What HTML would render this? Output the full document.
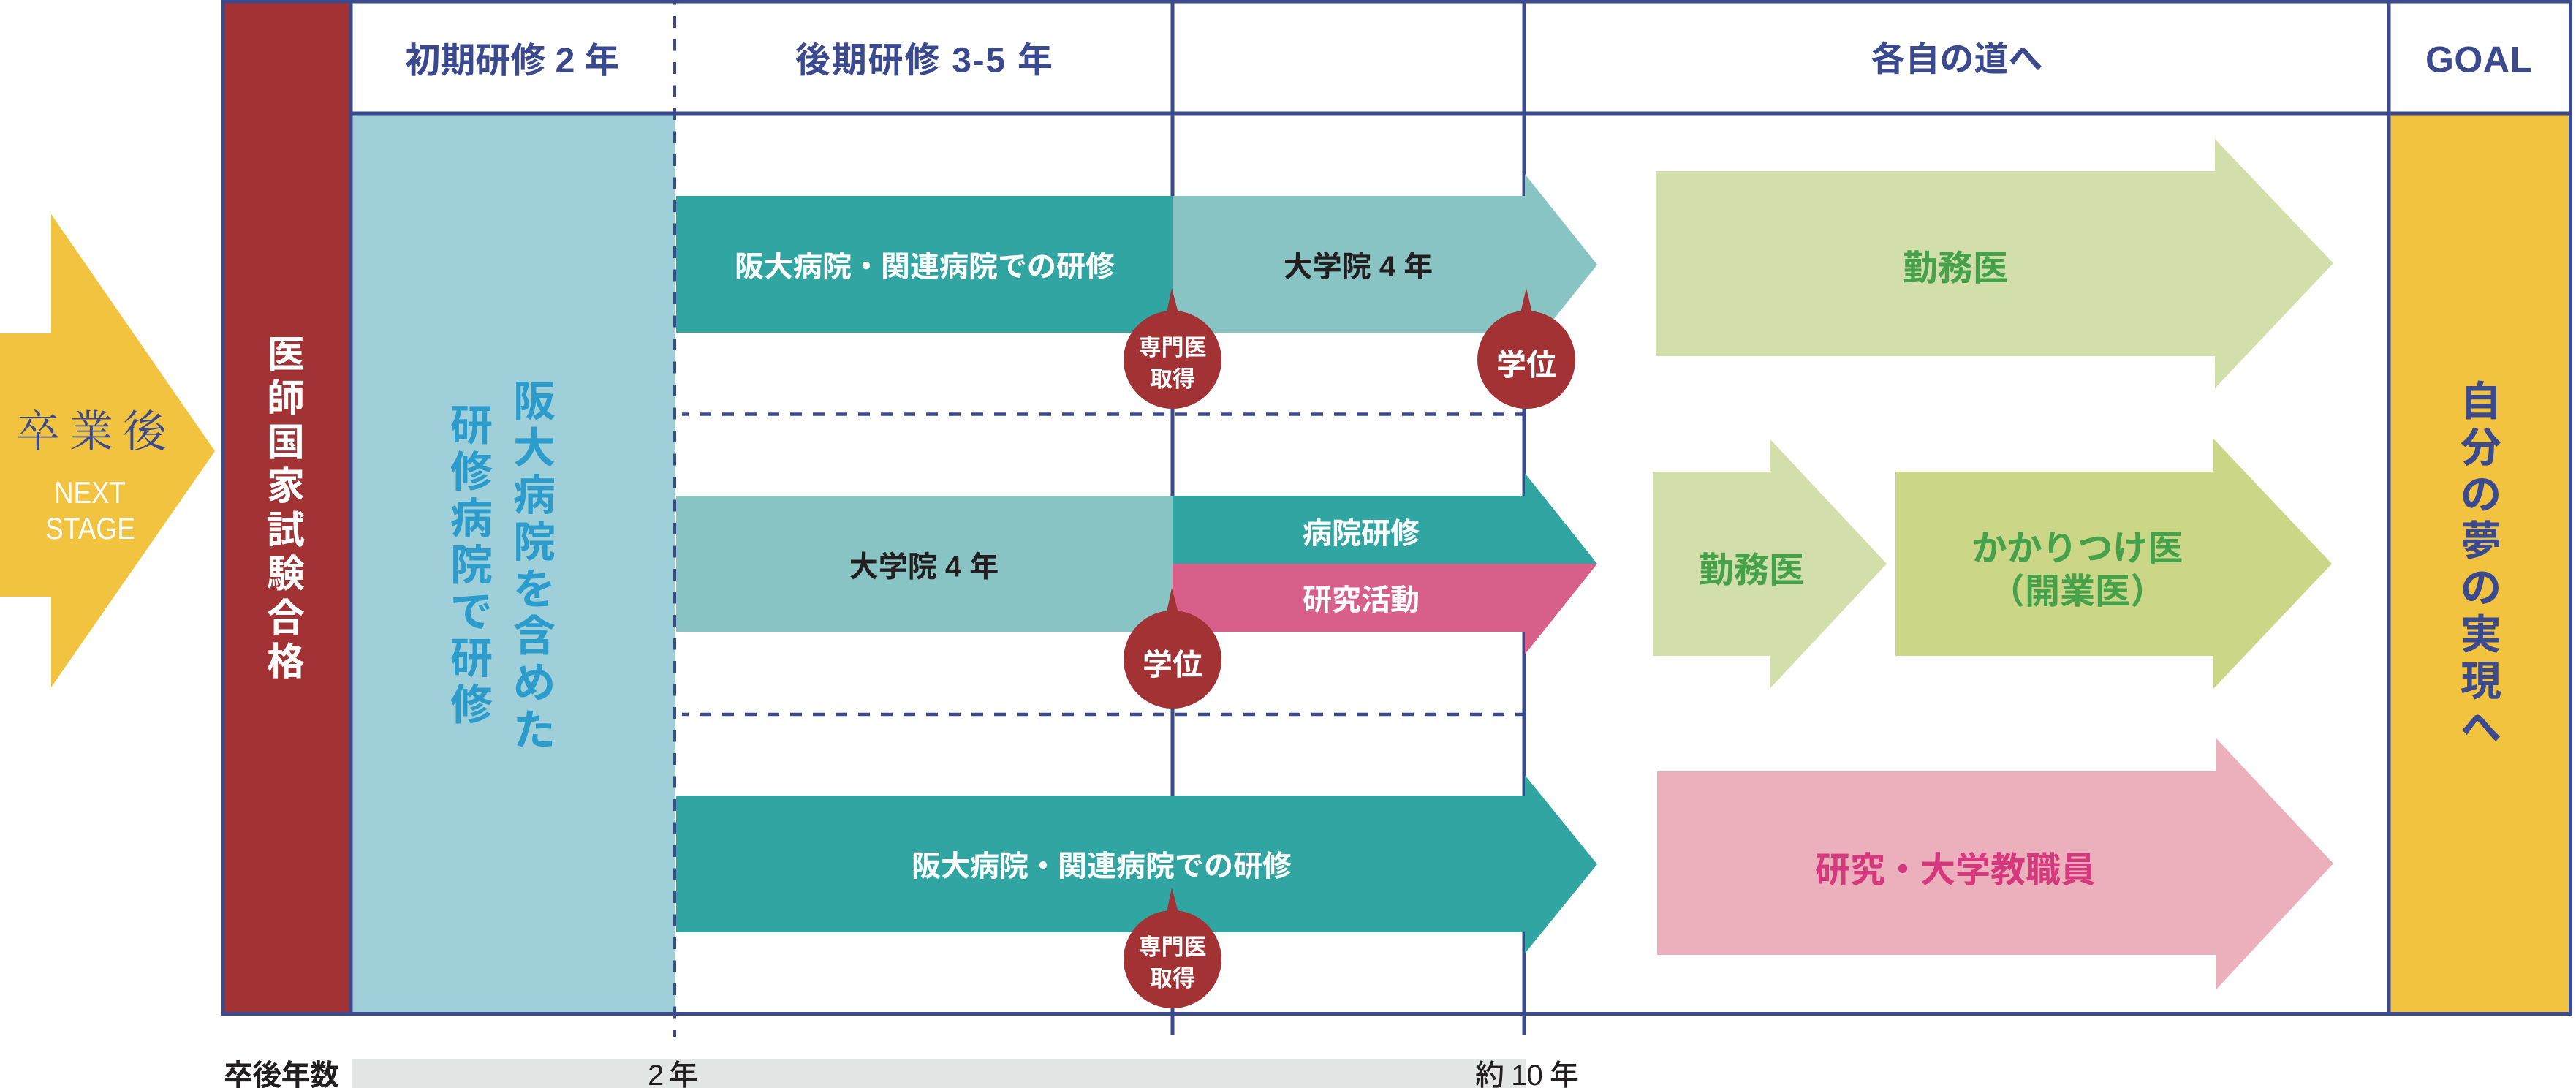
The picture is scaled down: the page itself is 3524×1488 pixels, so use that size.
<!DOCTYPE html>
<html><head><meta charset="utf-8"><style>
html,body{margin:0;padding:0;background:#fff;}
svg{display:block;}
</style></head><body>
<svg xmlns="http://www.w3.org/2000/svg" width="3524" height="1488" viewBox="0 0 3524 1488">
<rect x="0" y="0" width="3524" height="1488" fill="#fff"/>
<!-- yellow start arrow -->
<polygon points="0,456 70,456 70,293 294,617 70,940 70,816 0,816" fill="#f1c33f"/>
<!-- red column -->
<rect x="305" y="2" width="176" height="1384" fill="#a23234"/>
<!-- light blue column -->
<rect x="481" y="156" width="442" height="1230" fill="#9fd0da"/>
<!-- goal column -->
<rect x="3268" y="156" width="248" height="1230" fill="#f1c33f"/>
<!-- right arrows -->
<polygon points="2265,234 3030,234 3030,190 3192,360 3030,531 3030,487 2265,487" fill="#d3dfab"/>
<polygon points="2261,645 2421,645 2421,600 2581,771 2421,942 2421,897 2261,897" fill="#d3dfab"/>
<polygon points="2593,645 3028,645 3028,600 3190,771 3028,942 3028,897 2593,897" fill="#cbd687"/>
<polygon points="2267,1055 3032,1055 3032,1010 3192,1181 3032,1353 3032,1306 2267,1306" fill="#ebb0bb"/>
<!-- grid lines -->
<g stroke="#3b4a8e" stroke-width="5" fill="none">
<line x1="1604" y1="0" x2="1604" y2="1416"/>
<line x1="2085" y1="0" x2="2085" y2="1416"/>
<line x1="480" y1="0" x2="480" y2="1386"/>
<line x1="3268" y1="0" x2="3268" y2="1386"/>
<line x1="480" y1="155" x2="3516" y2="155"/>
<rect x="305.5" y="2" width="3211" height="1384.5"/>
</g>
<!-- row 1 -->
<rect x="925" y="268" width="679" height="187" fill="#31a5a2"/>
<polygon points="1604,268 2086,268 2086,238 2185,362 2086,486 2086,455 1604,455" fill="#88c4c4"/>
<!-- row 2 -->
<rect x="925" y="678" width="679" height="186" fill="#88c4c4"/>
<polygon points="1604,678 2086,678 2086,647 2185,771 1604,771" fill="#31a5a2"/>
<polygon points="1604,771 2185,771 2086,895 2086,864 1604,864" fill="#d95f8b"/>
<!-- row 3 -->
<polygon points="925,1088 2086,1088 2086,1060 2185,1182 2086,1304 2086,1275 925,1275" fill="#31a5a2"/>
<!-- dashed lines -->
<g stroke="#3b4a8e" fill="none">
<line x1="923" y1="0" x2="923" y2="1418" stroke-width="4" stroke-dasharray="16 15.5" stroke-dashoffset="9.5"/>
<line x1="933" y1="566.5" x2="2084" y2="566.5" stroke-width="4.5" stroke-dasharray="16 15" stroke-dashoffset="7"/>
<line x1="933" y1="977" x2="2084" y2="977" stroke-width="4.5" stroke-dasharray="16 15" stroke-dashoffset="7"/>
</g>
<!-- bottom gray bar -->
<rect x="481" y="1448" width="1606" height="40" fill="#e4e6e5"/>
<!-- badges -->
<g fill="#a23234">
<circle cx="1604" cy="492" r="67"/><polygon points="1595,432 1603,394 1613,432"/>
<circle cx="2088" cy="492" r="67"/><polygon points="2079,432 2088,394 2097,432"/>
<circle cx="1604" cy="902" r="67"/><polygon points="1595,842 1603,804 1613,842"/>
<circle cx="1604" cy="1312" r="67"/><polygon points="1595,1252 1603,1214 1613,1252"/>
</g>

<!-- TEXT -->
<g font-family="'Liberation Sans','Noto Sans CJK JP',sans-serif" font-weight="700">
<!-- left arrow -->
<text x="22" y="611" font-family="'Liberation Serif','Noto Serif CJK SC',serif" font-weight="400" font-size="60" fill="#3b4a8e" textLength="206">卒業後</text>
<text x="74" y="688" font-weight="400" font-size="42" fill="#fff" textLength="98" lengthAdjust="spacingAndGlyphs">NEXT</text>
<text x="62" y="737" font-weight="400" font-size="42" fill="#fff" textLength="123" lengthAdjust="spacingAndGlyphs">STAGE</text>

<!-- header -->
<g fill="#3b4a8e">
<text x="701" y="99" font-size="48" text-anchor="middle">初期研修 2 年</text>
<text x="1088" y="98.5" font-size="48" textLength="352">後期研修 3-5 年</text>
<text x="2677" y="97" font-size="47" text-anchor="middle">各自の道へ</text>
<text x="3318" y="98.7" font-size="50" textLength="146" font-family="'Liberation Sans',sans-serif">GOAL</text>
</g>

<!-- red column vertical -->
<g fill="#fff" font-size="52" text-anchor="middle">
<text x="391" y="502.8">医</text>
<text x="391" y="562.8">師</text>
<text x="391" y="622.8">国</text>
<text x="391" y="682.8">家</text>
<text x="391" y="742.8">試</text>
<text x="391" y="802.8">験</text>
<text x="391" y="862.8">合</text>
<text x="391" y="922.8">格</text>
</g>

<!-- light blue column vertical -->
<g fill="#2b9ccc" font-size="58" text-anchor="middle">
<text x="731" y="569">阪</text>
<text x="731" y="633.2">大</text>
<text x="731" y="697.4">病</text>
<text x="731" y="761.6">院</text>
<text x="731" y="825.8">を</text>
<text x="731" y="890">含</text>
<text x="731" y="954.2">め</text>
<text x="731" y="1018.4">た</text>
<text x="645" y="602">研</text>
<text x="645" y="665.7">修</text>
<text x="645" y="729.4">病</text>
<text x="645" y="793.1">院</text>
<text x="645" y="856.8">で</text>
<text x="645" y="920.5">研</text>
<text x="645" y="984.2">修</text>
</g>

<!-- goal vertical -->
<g fill="#3b4a8e" font-size="56" text-anchor="middle">
<text x="3394" y="568.3">自</text>
<text x="3394" y="632.1">分</text>
<text x="3394" y="695.9">の</text>
<text x="3394" y="759.7">夢</text>
<text x="3394" y="823.5">の</text>
<text x="3394" y="887.3">実</text>
<text x="3394" y="951.1">現</text>
<text x="3394" y="1014.9">へ</text>
</g>

<!-- bar texts -->
<g font-size="40" text-anchor="middle">
<text x="1265" y="378" fill="#fff">阪大病院・関連病院での研修</text>
<text x="1858" y="378" fill="#231f20">大学院 4 年</text>
<text x="1264" y="788.5" fill="#231f20">大学院 4 年</text>
<text x="1862" y="743" fill="#fff">病院研修</text>
<text x="1862" y="834" fill="#fff">研究活動</text>
<text x="1507" y="1198" fill="#fff">阪大病院・関連病院での研修</text>
</g>

<!-- badge texts -->
<g fill="#fff" text-anchor="middle">
<text x="1604" y="486" font-size="31">専門医</text>
<text x="1604" y="529" font-size="31">取得</text>
<text x="2088" y="513" font-size="41">学位</text>
<text x="1604" y="923" font-size="41">学位</text>
<text x="1604" y="1306" font-size="31">専門医</text>
<text x="1604" y="1349" font-size="31">取得</text>
</g>

<!-- right arrow texts -->
<g font-size="48" text-anchor="middle" fill="#45a24a">
<text x="2675" y="383">勤務医</text>
<text x="2396" y="796">勤務医</text>
<text x="2842" y="766">かかりつけ医</text>
<text x="2842" y="825">（開業医）</text>
<text x="2675" y="1206" fill="#d6387e">研究・大学教職員</text>
</g>

<!-- bottom axis labels -->
<g fill="#231f20" font-size="40">
<text x="306" y="1484" textLength="158">卒後年数</text>
<text x="886" y="1484" textLength="69" font-weight="500">2 年</text>
<text x="2018" y="1484" textLength="142" font-weight="500">約 10 年</text>
</g>
</g>
</svg>
</body></html>
